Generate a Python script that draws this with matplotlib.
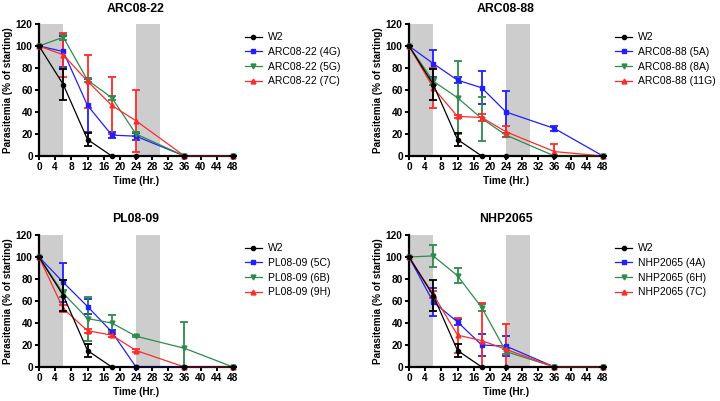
import matplotlib
matplotlib.use('Agg')
import matplotlib.pyplot as plt

plt.rcParams['font.family'] = ['Liberation Sans', 'DejaVu Sans']

time = [0, 6, 12, 18, 24, 36, 48]

w2 = [100, 65, 15, 0, 0, 0, 0]
w2_err = [0, 14, 6, 0, 0, 0, 0]

# ARC08-22
arc22_4g = [100, 95, 46, 19, 18, 0, 0]
arc22_4g_err = [0, 14, 24, 3, 3, 0, 0]
arc22_5g = [100, 108, 69, 53, 20, 0, 0]
arc22_5g_err = [0, 3, 2, 2, 2, 0, 0]
arc22_7c = [100, 92, 68, 46, 32, 0, 0]
arc22_7c_err = [0, 20, 24, 26, 28, 0, 0]

# ARC08-88
arc88_5a = [100, 84, 69, 62, 40, 25, 0]
arc88_5a_err = [0, 12, 3, 15, 19, 2, 0]
arc88_8a = [100, 68, 53, 34, 19, 0, 0]
arc88_8a_err = [0, 3, 33, 20, 2, 0, 0]
arc88_11g = [100, 62, 36, 35, 22, 4, 0]
arc88_11g_err = [0, 18, 1, 3, 5, 7, 0]

# PL08-09
pl_5c = [100, 77, 55, 32, 0, 0, 0]
pl_5c_err = [0, 18, 7, 2, 0, 0, 0]
pl_6b = [100, 67, 44, 40, 28, 17, 0]
pl_6b_err = [0, 3, 20, 7, 1, 24, 0]
pl_9h = [100, 53, 33, 29, 15, 0, 0]
pl_9h_err = [0, 3, 2, 2, 1, 0, 0]

# NHP2065
nhp_4a = [100, 59, 41, 20, 19, 0, 0]
nhp_4a_err = [0, 13, 3, 10, 9, 0, 0]
nhp_6h = [100, 101, 83, 54, 14, 0, 0]
nhp_6h_err = [0, 10, 7, 3, 2, 0, 0]
nhp_7c = [100, 66, 29, 24, 16, 0, 0]
nhp_7c_err = [0, 3, 16, 34, 23, 0, 0]

panels = [
    ('ARC08-22', ['ARC08-22 (4G)', 'ARC08-22 (5G)', 'ARC08-22 (7C)'],
     [(arc22_4g, arc22_4g_err), (arc22_5g, arc22_5g_err), (arc22_7c, arc22_7c_err)]),
    ('ARC08-88', ['ARC08-88 (5A)', 'ARC08-88 (8A)', 'ARC08-88 (11G)'],
     [(arc88_5a, arc88_5a_err), (arc88_8a, arc88_8a_err), (arc88_11g, arc88_11g_err)]),
    ('PL08-09', ['PL08-09 (5C)', 'PL08-09 (6B)', 'PL08-09 (9H)'],
     [(pl_5c, pl_5c_err), (pl_6b, pl_6b_err), (pl_9h, pl_9h_err)]),
    ('NHP2065', ['NHP2065 (4A)', 'NHP2065 (6H)', 'NHP2065 (7C)'],
     [(nhp_4a, nhp_4a_err), (nhp_6h, nhp_6h_err), (nhp_7c, nhp_7c_err)]),
]

colors = ['#1f1fff', '#2e8b4a', '#ff2a2a']
markers = ['s', 'v', '^']

# axes boxes in pixels: left, top
boxes = [(39, 24), (409, 24), (39, 235), (409, 235)]
W, H = 720, 401
aw, ah = 194, 132

fig = plt.figure(figsize=(7.2, 4.01), dpi=100)


def draw(ax, vals, err, color, marker, ms, z):
    # lower whisker stops at the axis
    lower = [min(e, v) for v, e in zip(vals, err)]
    eb = ax.errorbar(time, vals, yerr=[lower, err], color=color, marker=marker,
                     ms=ms, lw=0.9, elinewidth=1.3, capsize=3, capthick=1.3,
                     clip_on=False, zorder=z)
    return eb[0]


for (title, labels, series), (left, top) in zip(panels, boxes):
    ax = fig.add_axes([left / W, 1 - (top + ah) / H, aw / W, ah / H])
    ax.axvspan(0, 6, color='#cdcdcd', lw=0, zorder=0)
    ax.axvspan(24, 30, color='#cdcdcd', lw=0, zorder=0)

    handles = []
    for (vals, err), c, m in zip(series, colors, markers):
        handles.append(draw(ax, vals, err, c, m, 3.5, 3))
    handles.insert(0, draw(ax, w2, w2_err, 'black', 'o', 3, 4))

    ax.set_xlim(0, 48)
    ax.set_ylim(0, 120)
    ax.set_xticks(range(0, 49, 4))
    ax.set_yticks(range(0, 121, 20))
    for s in ['top', 'right']:
        ax.spines[s].set_visible(False)
    for s in ['left', 'bottom']:
        ax.spines[s].set_linewidth(1.6)
    ax.tick_params(width=1.4, length=3, labelsize=7.3, pad=1.5)
    for t in ax.get_xticklabels() + ax.get_yticklabels():
        t.set_fontweight('bold')
    ax.set_xlabel('Time (Hr.)', fontsize=7.2, fontweight='bold', labelpad=3)
    ax.set_ylabel('Parasitemia (% of starting)', fontsize=7.2,
                  fontweight='bold', labelpad=2)
    ax.set_title(title, fontsize=8.8, fontweight='bold', pad=9)

    ax.legend(handles=handles, labels=['W2'] + labels, loc='upper left',
              bbox_to_anchor=((left + aw + 8) / W, 1 - (top + 4) / H),
              bbox_transform=fig.transFigure, frameon=False, fontsize=7.5,
              handlelength=1.6, handletextpad=0.6, labelspacing=0.45,
              borderaxespad=0)

fig.savefig('out.png', dpi=100)
